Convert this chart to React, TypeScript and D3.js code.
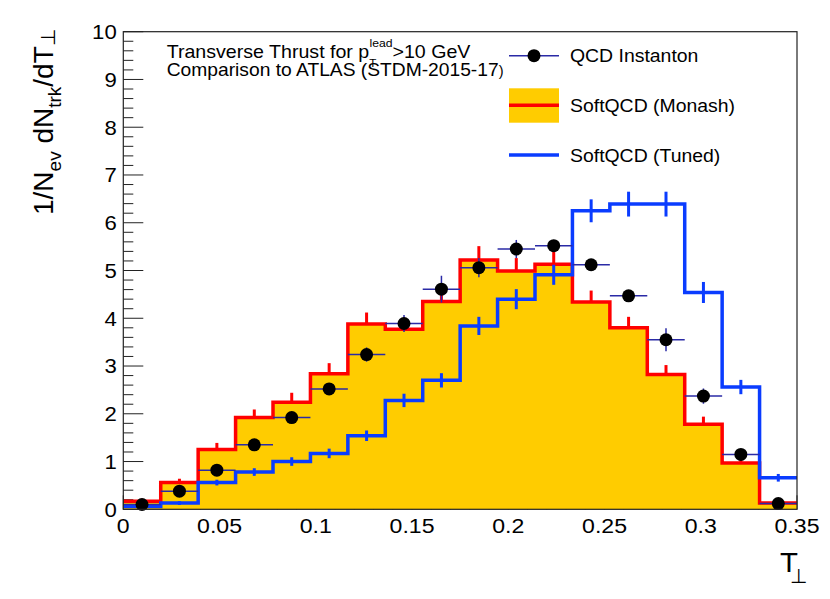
import * as d3 from 'd3';

// x axis: T_perp, 18 equal bins over [0, 0.35]
const X_TICKS = [0, 0.05, 0.1, 0.15, 0.2, 0.25, 0.3, 0.35];
const X_TICK_LABELS = ['0', '0.05', '0.1', '0.15', '0.2', '0.25', '0.3', '0.35'];
const Y_TICKS = [0, 1, 2, 3, 4, 5, 6, 7, 8, 9, 10];

// QCD Instanton (points)
const instanton = [0.10, 0.38, 0.82, 1.35, 1.92, 2.52, 3.24, 3.89, 4.61, 5.06, 5.45, 5.52, 5.12, 4.47, 3.55, 2.37, 1.15, 0.12];
const instantonErr = [0.03, 0.05, 0.06, 0.08, 0.1, 0.12, 0.15, 0.18, 0.28, 0.2, 0.19, 0.12, 0.1, 0.12, 0.24, 0.16, 0.1, 0.05];

// SoftQCD (Monash), filled
const monash = [0.17, 0.56, 1.25, 1.92, 2.24, 2.84, 3.88, 3.77, 4.35, 5.22, 4.99, 5.13, 4.34, 3.80, 2.82, 1.78, 0.97, 0.13];
const monashErr = [0.05, 0.08, 0.14, 0.17, 0.2, 0.22, 0.24, 0.24, 0.26, 0.29, 0.27, 0.27, 0.24, 0.23, 0.2, 0.16, 0.12, 0.05];

// SoftQCD (Tuned)
const tuned = [0.06, 0.13, 0.56, 0.78, 1.0, 1.17, 1.54, 2.28, 2.70, 3.84, 4.40, 4.91, 6.25, 6.39, 6.39, 4.54, 2.56, 0.66];
const tunedErr = [0.03, 0.04, 0.06, 0.08, 0.09, 0.1, 0.11, 0.14, 0.15, 0.19, 0.21, 0.21, 0.24, 0.26, 0.26, 0.22, 0.15, 0.08];

const FONT = '"Liberation Sans", Arial, Helvetica, sans-serif';
const YELLOW = '#ffcc00';
const RED = '#ff0000';
const BLUE = '#0a3cff';
const NAVY = '#2a2aa6';

function Txt({ x, y, size, sx = 1.06, anchor = 'start', children }: any) {
  return (
    <text
      transform={`translate(${x},${y}) scale(${sx},1)`}
      fontSize={size}
      textAnchor={anchor}
      fontFamily={FONT}
      fill="#000"
    >
      {children}
    </text>
  );
}

export default function App() {
  const width = 830;
  const height = 599;
  const x = d3.scaleLinear().domain([0, 0.35]).range([123.3, 797]);
  const y = d3.scaleLinear().domain([0, 10]).range([509.3, 31.7]);

  const n = instanton.length;
  const binW = 0.35 / n;
  const edges = d3.range(n + 1).map((i) => i * binW);
  const centers = d3.range(n).map((i) => (i + 0.5) * binW);

  // step data: one point per lower edge, plus a closing point at the last edge
  const stepData = (vals: number[]) =>
    vals.map((v, i) => ({ e: edges[i], v })).concat([{ e: edges[n], v: vals[n - 1] }]);

  const line = d3
    .line<{ e: number; v: number }>()
    .x((d) => x(d.e))
    .y((d) => y(d.v))
    .curve(d3.curveStepAfter);

  const area = d3
    .area<{ e: number; v: number }>()
    .x((d) => x(d.e))
    .y0(y(0))
    .y1((d) => y(d.v))
    .curve(d3.curveStepAfter);

  const yMinor = d3.range(0, 10.001, 0.2);
  const xMinor = d3.range(0, 0.3501, 0.01);

  return (
    <div style={{ position: 'absolute', left: 0, top: 0 }}>
      <svg width={width} height={height} style={{ display: 'block', background: '#fff' }}>
        {/* ticks (drawn under the histograms) */}
        <g stroke="#222" strokeWidth={1}>
          {yMinor.map((t, i) => {
            const major = Math.abs(t - Math.round(t)) < 1e-6;
            return (
              <line key={'ym' + i} x1={x(0)} x2={x(0) + (major ? 20 : 10)} y1={y(t)} y2={y(t)} />
            );
          })}
          {xMinor.map((t, i) => {
            const major = Math.abs(t / 0.05 - Math.round(t / 0.05)) < 1e-6;
            return (
              <line key={'xm' + i} x1={x(t)} x2={x(t)} y1={y(0)} y2={y(0) - (major ? 14 : 7)} />
            );
          })}
        </g>

        {/* Monash: error ticks, fill, outline */}
        <g stroke={RED} strokeWidth={3}>
          {monash.map((v, i) => (
            <line key={'me' + i} x1={x(centers[i])} x2={x(centers[i])} y1={y(v)} y2={y(v + monashErr[i])} />
          ))}
        </g>
        <path d={area(stepData(monash)) || ''} fill={YELLOW} stroke="none" />
        <path d={line(stepData(monash)) || ''} fill="none" stroke={RED} strokeWidth={3.5} />

        {/* Tuned */}
        <path d={line(stepData(tuned)) || ''} fill="none" stroke={BLUE} strokeWidth={3.5} />
        <g stroke={BLUE} strokeWidth={3}>
          {tuned.map((v, i) => (
            <line
              key={'te' + i}
              x1={x(centers[i])}
              x2={x(centers[i])}
              y1={y(v - tunedErr[i])}
              y2={y(v + tunedErr[i])}
            />
          ))}
        </g>

        {/* QCD Instanton points */}
        <g stroke={NAVY} strokeWidth={1.5}>
          {instanton.map((v, i) => (
            <g key={'ip' + i}>
              <line x1={x(edges[i])} x2={x(edges[i + 1])} y1={y(v)} y2={y(v)} />
              <line
                x1={x(centers[i])}
                x2={x(centers[i])}
                y1={y(v - instantonErr[i])}
                y2={y(v + instantonErr[i])}
              />
            </g>
          ))}
        </g>
        {instanton.map((v, i) => (
          <circle key={'ic' + i} cx={x(centers[i])} cy={y(v)} r={6.5} fill="#000" />
        ))}

        {/* frame */}
        <rect
          x={x(0)}
          y={y(10)}
          width={x(0.35) - x(0)}
          height={y(0) - y(10)}
          fill="none"
          stroke="#222"
          strokeWidth={1.2}
        />

        {/* tick labels */}
        {Y_TICKS.map((t) => (
          <Txt key={'yl' + t} x={116.7} y={y(t) + 7.3} size={20.5} sx={1.08} anchor="end">
            {String(t)}
          </Txt>
        ))}
        {X_TICKS.map((t, i) => (
          <Txt key={'xl' + t} x={x(t)} y={533.3} size={21} sx={1.1} anchor="middle">
            {X_TICK_LABELS[i]}
          </Txt>
        ))}

        {/* axis titles */}
        <text transform="translate(53.3,215) rotate(-90)" fontFamily={FONT} fontSize={28} fill="#000">
          <tspan>1/N</tspan>
          <tspan fontSize={19} dy={8}>ev</tspan>
          <tspan dy={-8}> dN</tspan>
          <tspan fontSize={19} dy={8}>trk</tspan>
          <tspan dy={-8}>/dT</tspan>
          <tspan fontSize={20} dy={2}>⊥</tspan>
        </text>
        <Txt x={780} y={571.7} size={28} sx={1.05}>T</Txt>
        <Txt x={790} y={583} size={20} sx={1}>⊥</Txt>

        {/* info text */}
        <Txt x={166.7} y={58.3} size={18.5} sx={1.06}>
          Transverse Thrust for p
          <tspan fontSize={11} dy={9}>T</tspan>
          <tspan fontSize={11.5} dx={-6.5} dy={-20.5}>lead</tspan>
          <tspan dy={11.5}>&gt;10 GeV</tspan>
        </Txt>
        <Txt x={166.7} y={76} size={18.5} sx={1.04}>
          Comparison to ATLAS (STDM-2015-17<tspan fontSize={14}>)</tspan>
        </Txt>

        {/* legend */}
        <line x1={509} x2={559} y1={55.7} y2={55.7} stroke={NAVY} strokeWidth={1.5} />
        <circle cx={534} cy={55.7} r={6.5} fill="#000" />
        <Txt x={570} y={62.3} size={18.5} sx={1.05}>QCD Instanton</Txt>

        <rect x={509} y={88.3} width={50} height={34.4} fill={YELLOW} />
        <line x1={509} x2={559} y1={105.3} y2={105.3} stroke={RED} strokeWidth={3.5} />
        <Txt x={570} y={111.8} size={18.5} sx={1.05}>SoftQCD (Monash)</Txt>

        <line x1={509} x2={559} y1={155} y2={155} stroke={BLUE} strokeWidth={3.5} />
        <Txt x={570} y={161.5} size={18.5} sx={1.05}>SoftQCD (Tuned)</Txt>
      </svg>
    </div>
  );
}
